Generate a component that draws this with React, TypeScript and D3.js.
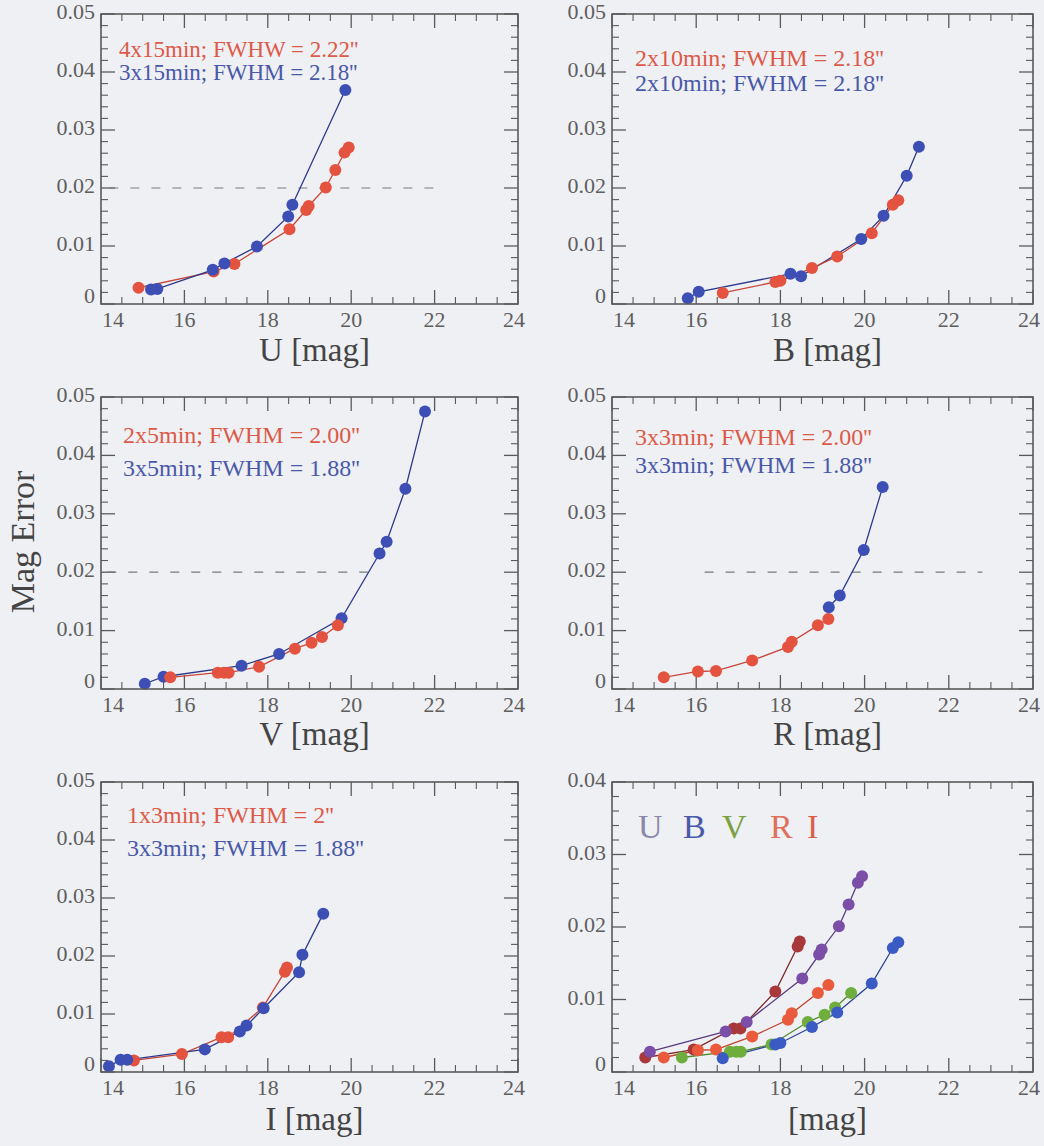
import React from "react";
import * as d3 from "d3";

const W = 1044;
const H = 1146;

// ---------- data (magnitude, magnitude error) ----------
// U band
const uRedMag = [14.9, 16.7, 17.2, 18.52, 18.92, 18.98, 19.39, 19.62, 19.84, 19.94];
const uRedErr = [0.0028, 0.0056, 0.0069, 0.0129, 0.0162, 0.0169, 0.0201, 0.0231, 0.0261, 0.027];
const uBlueMag = [15.2, 15.35, 16.68, 16.96, 17.74, 18.49, 18.59, 19.86];
const uBlueErr = [0.0025, 0.0026, 0.0059, 0.007, 0.0099, 0.0151, 0.0171, 0.0369];
// B band
const bRedMag = [16.63, 17.88, 18.0, 18.75, 19.35, 20.17, 20.67, 20.8];
const bRedErr = [0.0019, 0.0038, 0.004, 0.0062, 0.0082, 0.0122, 0.0171, 0.0179];
const bBlueMag = [15.8, 16.06, 18.24, 18.49, 19.92, 20.45, 21.0, 21.29];
const bBlueErr = [0.001, 0.0021, 0.0052, 0.0048, 0.0112, 0.0152, 0.0221, 0.0271];
// V band
const vRedMag = [15.66, 16.8, 16.95, 17.06, 17.79, 18.65, 19.05, 19.3, 19.68];
const vRedErr = [0.002, 0.0028, 0.0028, 0.0028, 0.0038, 0.0069, 0.0079, 0.0089, 0.0109];
const vBlueMag = [15.05, 15.5, 17.37, 18.27, 19.77, 20.68, 20.85, 21.3, 21.77];
const vBlueErr = [0.0009, 0.0021, 0.004, 0.006, 0.0121, 0.0232, 0.0252, 0.0343, 0.0475];
// R band
const rRedMag = [15.23, 16.04, 16.47, 17.33, 18.18, 18.27, 18.89, 19.14];
const rRedErr = [0.002, 0.003, 0.0031, 0.0049, 0.0072, 0.0081, 0.0109, 0.012];
const rBlueMag = [19.15, 19.41, 19.98, 20.43];
const rBlueErr = [0.014, 0.016, 0.0238, 0.0346];
// I band
const iRedMag = [14.79, 15.94, 16.89, 17.05, 17.88, 18.41, 18.46];
const iRedErr = [0.002, 0.0031, 0.006, 0.006, 0.0111, 0.0173, 0.018];
const iBlueMag = [14.19, 14.47, 14.63, 16.49, 17.33, 17.49, 17.9, 18.75, 18.83, 19.33];
const iBlueErr = [0.001, 0.0021, 0.0021, 0.0039, 0.007, 0.008, 0.011, 0.0172, 0.0202, 0.0273];

// legends / labels
const legendU = ["4x15min; FWHW = 2.22''", "3x15min; FWHM = 2.18''"];
const legendB = ["2x10min; FWHM = 2.18''", "2x10min; FWHM = 2.18''"];
const legendV = ["2x5min; FWHM = 2.00''", "3x5min; FWHM = 1.88''"];
const legendR = ["3x3min; FWHM = 2.00''", "3x3min; FWHM = 1.88''"];
const legendI = ["1x3min; FWHM = 2''", "3x3min; FWHM = 1.88''"];
const bandLetters = ["U", "B", "V", "R", "I"];
const xTickValues = [14, 16, 18, 20, 22, 24];

// ---------- styling ----------
const RED = "#e4533f";
const RED_LINE = "#c8463a";
const BLUE = "#3d4fb5";
const BLUE_LINE = "#2c3a8c";
const BAND_COLORS = ["#7b4fa8", "#3b5bc4", "#6fae3c", "#ea5a3c", "#a8383a"];
const BAND_LINES = ["#5a3a80", "#2c4498", "#4f8a2a", "#c0442c", "#7e2a2c"];
const LEGEND6_COLORS = ["#8a88a8", "#4a5aaa", "#7aa040", "#e0705a", "#d8604a"];
const LEGEND6_X = [638, 683, 722, 770, 807];
const BG = "#eff0f4";
const FRAME = "#5a5a5a";
const FONT = "Liberation Serif, DejaVu Serif, Times New Roman, serif";

const COLS = [
  { x0: 101, x1: 518 },
  { x0: 612, x1: 1033 },
];
const ROWS = [
  { y0: 14, y1: 304, title: 353 },
  { y0: 397, y1: 689, title: 737 },
  { y0: 782, y1: 1072, title: 1122 },
];

type Series = { mag: number[]; err: number[]; color: string; line: string };
type PanelDef = {
  col: number;
  row: number;
  yMax: number;
  title: string;
  series: Series[];
  legend?: { texts: string[]; x: number; ys: number[]; size: number };
  dashed?: [number, number];
  bandLegend?: boolean;
};

const zip = (a: number[], b: number[]) => a.map((v, i) => [v, b[i]] as [number, number]);

const panels: PanelDef[] = [
  {
    col: 0, row: 0, yMax: 0.05, title: "U [mag]",
    series: [
      { mag: uRedMag, err: uRedErr, color: RED, line: RED_LINE },
      { mag: uBlueMag, err: uBlueErr, color: BLUE, line: BLUE_LINE },
    ],
    legend: { texts: legendU, x: 119, ys: [52, 75], size: 23 },
    dashed: [14.2, 22.2],
  },
  {
    col: 1, row: 0, yMax: 0.05, title: "B [mag]",
    series: [
      { mag: bBlueMag, err: bBlueErr, color: BLUE, line: BLUE_LINE },
      { mag: bRedMag, err: bRedErr, color: RED, line: RED_LINE },
    ],
    legend: { texts: legendB, x: 635, ys: [60, 85], size: 24 },
  },
  {
    col: 0, row: 1, yMax: 0.05, title: "V [mag]",
    series: [
      { mag: vBlueMag, err: vBlueErr, color: BLUE, line: BLUE_LINE },
      { mag: vRedMag, err: vRedErr, color: RED, line: RED_LINE },
    ],
    legend: { texts: legendV, x: 123, ys: [437, 470], size: 24 },
    dashed: [14.15, 20.4],
  },
  {
    col: 1, row: 1, yMax: 0.05, title: "R [mag]",
    series: [
      { mag: rRedMag, err: rRedErr, color: RED, line: RED_LINE },
      { mag: rBlueMag, err: rBlueErr, color: BLUE, line: BLUE_LINE },
    ],
    legend: { texts: legendR, x: 635, ys: [439, 467], size: 24 },
    dashed: [16.2, 22.8],
  },
  {
    col: 0, row: 2, yMax: 0.05, title: "I [mag]",
    series: [
      { mag: iRedMag, err: iRedErr, color: RED, line: RED_LINE },
      { mag: iBlueMag, err: iBlueErr, color: BLUE, line: BLUE_LINE },
    ],
    legend: { texts: legendI, x: 127, ys: [817, 850], size: 24 },
  },
  {
    col: 1, row: 2, yMax: 0.04, title: "[mag]",
    series: [
      { mag: iRedMag, err: iRedErr, color: BAND_COLORS[4], line: BAND_LINES[4] },
      { mag: rRedMag, err: rRedErr, color: BAND_COLORS[3], line: BAND_LINES[3] },
      { mag: vRedMag, err: vRedErr, color: BAND_COLORS[2], line: BAND_LINES[2] },
      { mag: bRedMag, err: bRedErr, color: BAND_COLORS[1], line: BAND_LINES[1] },
      { mag: uRedMag, err: uRedErr, color: BAND_COLORS[0], line: BAND_LINES[0] },
    ],
    bandLegend: true,
  },
];

function Panel({ p }: { p: PanelDef }) {
  const c = COLS[p.col];
  const r = ROWS[p.row];
  const x = d3.scaleLinear().domain([14, 24]).range([c.x0, c.x1]);
  const y = d3.scaleLinear().domain([0, p.yMax]).range([r.y1, r.y0]);
  const xMinor = d3.range(28, 49).map((k) => k / 2).filter((v) => v % 2 !== 0);
  const nMaj = Math.round(p.yMax / 0.01);
  const yMajor = d3.range(0, nMaj + 1).map((k) => k * 0.01);
  const yMinor = d3.range(0, nMaj * 5 + 1).filter((k) => k % 5 !== 0).map((k) => k * 0.002);
  const line = d3
    .line<[number, number]>()
    .x((d) => x(d[0]))
    .y((d) => y(d[1]));
  const MAJ = 14;
  const MIN = 7;
  return (
    <g>
      {xTickValues.map((v) => (
        <g key={"xm" + v} stroke={FRAME} strokeWidth={1.3}>
          <line x1={x(v)} x2={x(v)} y1={r.y1} y2={r.y1 - MAJ} />
          <line x1={x(v)} x2={x(v)} y1={r.y0} y2={r.y0 + MAJ} />
        </g>
      ))}
      {xMinor.map((v) => (
        <g key={"xn" + v} stroke={FRAME} strokeWidth={1.1}>
          <line x1={x(v)} x2={x(v)} y1={r.y1} y2={r.y1 - MIN} />
          <line x1={x(v)} x2={x(v)} y1={r.y0} y2={r.y0 + MIN} />
        </g>
      ))}
      {yMajor.map((v) => (
        <g key={"ym" + v} stroke={FRAME} strokeWidth={1.3}>
          <line x1={c.x0} x2={c.x0 + MAJ} y1={y(v)} y2={y(v)} />
          <line x1={c.x1} x2={c.x1 - MAJ} y1={y(v)} y2={y(v)} />
        </g>
      ))}
      {yMinor.map((v) => (
        <g key={"yn" + v} stroke={FRAME} strokeWidth={1.1}>
          <line x1={c.x0} x2={c.x0 + MIN} y1={y(v)} y2={y(v)} />
          <line x1={c.x1} x2={c.x1 - MIN} y1={y(v)} y2={y(v)} />
        </g>
      ))}
      {xTickValues.map((v) => (
        <text
          key={"xl" + v}
          x={Math.min(Math.max(x(v), c.x0 + 12), c.x1 - 4)}
          y={r.y1 + 18}
          textAnchor="middle"
          dominantBaseline="middle"
          fontSize={22}
          fill="#5e5e5e"
        >
          {v}
        </text>
      ))}
      {yMajor.map((v) => (
        <text
          key={"yl" + v}
          x={c.x0 - 6}
          y={Math.min(y(v), r.y1 - 6)}
          textAnchor="end"
          dominantBaseline="middle"
          fontSize={22}
          fill="#5e5e5e"
        >
          {v === 0 ? "0" : v.toFixed(2)}
        </text>
      ))}
      {p.dashed && (
        <line
          x1={x(p.dashed[0])}
          x2={x(p.dashed[1])}
          y1={y(0.02)}
          y2={y(0.02)}
          stroke="#7a7a7a"
          strokeWidth={1.2}
          strokeDasharray="9,12"
        />
      )}
      {p.series.map((s, i) => (
        <path key={"l" + i} d={line(zip(s.mag, s.err)) || ""} fill="none" stroke={s.line} strokeWidth={1.3} />
      ))}
      {p.series.map((s, i) => (
        <g key={"m" + i} fill={s.color}>
          {zip(s.mag, s.err).map((d, j) => (
            <circle key={j} cx={x(d[0])} cy={y(d[1])} r={6} />
          ))}
        </g>
      ))}
      {p.legend &&
        p.legend.texts.map((t, i) => (
          <text
            key={"lg" + i}
            x={p.legend!.x}
            y={p.legend!.ys[i]}
            dominantBaseline="middle"
            fontSize={p.legend!.size}
            fill={i === 0 ? "#dc5a48" : "#4a58a8"}
          >
            {t}
          </text>
        ))}
      {p.bandLegend &&
        bandLetters.map((b, i) => (
          <text key={"bl" + b} x={LEGEND6_X[i]} y={830} dominantBaseline="middle" fontSize={34} fill={LEGEND6_COLORS[i]}>
            {b}
          </text>
        ))}
      <rect x={c.x0} y={r.y0} width={c.x1 - c.x0} height={r.y1 - r.y0} fill="none" stroke={FRAME} strokeWidth={1.6} />
      <text
        x={(c.x0 + c.x1) / 2 + 5}
        y={r.title}
        textAnchor="middle"
        dominantBaseline="middle"
        fontSize={33}
        fill="#444"
      >
        {p.title}
      </text>
    </g>
  );
}

export default function App() {
  return (
    <svg
      width={W}
      height={H}
      style={{ position: "absolute", left: 0, top: 0, display: "block", fontFamily: FONT }}
    >
      <rect width={W} height={H} fill={BG} />
      {panels.map((p, i) => (
        <Panel key={i} p={p} />
      ))}
      <text
        transform="translate(26,542) rotate(-90)"
        textAnchor="middle"
        dominantBaseline="middle"
        fontSize={34}
        fill="#444"
      >
        Mag Error
      </text>
    </svg>
  );
}
